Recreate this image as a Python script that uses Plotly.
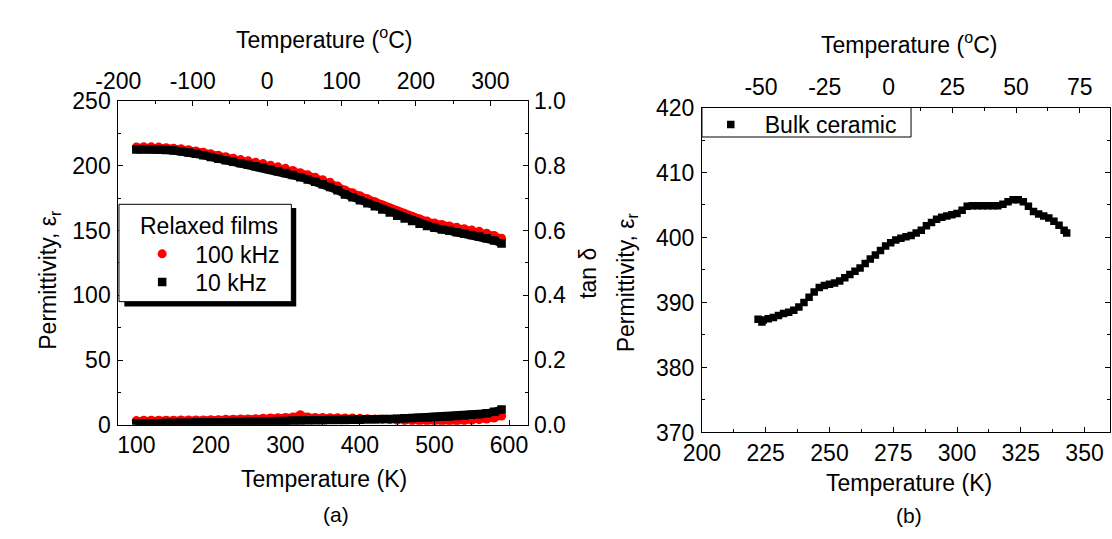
import plotly.graph_objects as go

# ---------------- data: panel (a) relaxed films ----------------
T_film = [100, 110, 120, 130, 140, 150, 160, 170, 180, 190,
          200, 210, 220, 230, 240, 250, 260, 270, 280, 290,
          300, 310, 320, 330, 340, 350, 360, 370, 380, 390,
          400, 410, 420, 430, 440, 450, 460, 470, 480, 490,
          500, 510, 520, 530, 540, 550, 560, 570, 580, 590]

eps_100kHz = [214.3, 214.5, 214.5, 214.3, 213.9, 213.5, 213.1, 212.3, 211.3, 210.3,
              209.1, 208.0, 206.9, 205.8, 204.7, 203.7, 202.7, 201.6, 200.4, 199.1,
              197.9, 196.3, 194.6, 192.9, 191.1, 189.1, 187.1, 184.3, 181.3, 179.1,
              176.8, 174.5, 172.1, 169.7, 167.3, 165.0, 162.8, 160.8, 158.9, 157.2,
              155.8, 154.6, 153.5, 152.4, 151.4, 150.4, 149.3, 147.9, 146.1, 144.0]

eps_10kHz = [212.5, 212.7, 212.7, 212.5, 212.1, 211.7, 211.1, 210.2, 209.1, 208.0,
             206.6, 205.4, 204.2, 203.0, 201.8, 200.7, 199.5, 198.3, 197.0, 195.7,
             194.4, 192.8, 191.1, 189.4, 187.6, 185.6, 183.6, 181.0, 177.8, 175.6,
             173.3, 171.0, 168.6, 166.2, 163.8, 161.4, 159.2, 157.2, 155.2, 153.4,
             152.0, 150.8, 149.7, 148.6, 147.5, 146.5, 145.4, 144.0, 142.2, 140.0]

tan_100kHz = [0.013, 0.014, 0.014, 0.014, 0.014, 0.014, 0.015, 0.015, 0.015, 0.015,
              0.016, 0.016, 0.017, 0.017, 0.018, 0.018, 0.019, 0.020, 0.021, 0.022,
              0.023, 0.024, 0.031, 0.024, 0.023, 0.023, 0.022, 0.022, 0.021, 0.021,
              0.020, 0.019, 0.018, 0.017, 0.016, 0.014, 0.013, 0.012, 0.011, 0.011,
              0.011, 0.011, 0.012, 0.012, 0.013, 0.014, 0.016, 0.018, 0.021, 0.027]

tan_10kHz = [0.005, 0.005, 0.005, 0.005, 0.006, 0.006, 0.006, 0.006, 0.007, 0.007,
             0.007, 0.008, 0.008, 0.009, 0.009, 0.010, 0.010, 0.011, 0.011, 0.012,
             0.012, 0.013, 0.013, 0.014, 0.014, 0.014, 0.015, 0.015, 0.015, 0.016,
             0.016, 0.017, 0.017, 0.018, 0.018, 0.019, 0.020, 0.021, 0.022, 0.023,
             0.024, 0.025, 0.026, 0.027, 0.029, 0.031, 0.033, 0.036, 0.040, 0.047]

# ---------------- data: panel (b) bulk ceramic ----------------
T_bulk = [222, 223.5, 224, 226, 228, 230, 232, 234, 236, 238,
          240, 242, 244, 246, 248, 250, 252, 254, 256, 258,
          260, 262, 264, 266, 268, 270, 272, 274, 276, 278,
          280, 282, 284, 286, 288, 290, 292, 294, 296, 298,
          300, 302, 304, 306, 308, 310, 312, 314, 316, 318,
          320, 322, 324, 326, 328, 330, 332, 334, 336, 338,
          340, 342, 343]

eps_bulk = [387.4, 387.0, 387.3, 387.5, 387.7, 388.0, 388.3, 388.5, 388.8, 389.3,
            390.0, 390.8, 391.6, 392.3, 392.6, 392.8, 393.0, 393.3, 393.8, 394.3,
            394.8, 395.3, 396.0, 396.7, 397.3, 398.0, 398.7, 399.2, 399.6, 399.9,
            400.1, 400.3, 400.7, 401.1, 401.8, 402.3, 402.8, 403.1, 403.3, 403.5,
            403.7, 404.2, 404.8, 404.9, 404.9, 404.9, 404.9, 404.9, 404.9, 405.1,
            405.5, 405.8, 405.8, 405.5, 404.8, 404.0, 403.6, 403.3, 403.0, 402.5,
            401.9, 401.1, 400.7]

# ---------------- tick labels ----------------
a_top_vals = [-200, -100, 0, 100, 200, 300]
a_top_text = ["-200", "-100", "0", "100", "200", "300"]
b_top_vals = [-50, -25, 0, 25, 50, 75]
b_top_text = ["-50", "-25", "0", "25", "50", "75"]

FONT = "Liberation Sans, Arial, sans-serif"
FS = 23
W, H = 1112, 539
RED = "#ff0000"


def px(x):
    return x / W


def py(y):
    return 1 - y / H


fig = go.Figure()

# panel (a) traces
fig.add_trace(go.Scatter(x=T_film, y=eps_100kHz, xaxis="x", yaxis="y", mode="lines",
                         line=dict(color=RED, width=7), showlegend=False, hoverinfo="skip"))
fig.add_trace(go.Scatter(x=T_film, y=eps_100kHz, xaxis="x", yaxis="y", mode="markers",
                         marker=dict(symbol="circle", size=9, color=RED), name="100 kHz",
                         legend="legend"))
fig.add_trace(go.Scatter(x=T_film, y=eps_10kHz, xaxis="x", yaxis="y", mode="lines",
                         line=dict(color="black", width=8), showlegend=False, hoverinfo="skip"))
fig.add_trace(go.Scatter(x=T_film, y=eps_10kHz, xaxis="x", yaxis="y", mode="markers",
                         marker=dict(symbol="square", size=8.5, color="black"), name="10 kHz",
                         legend="legend3"))
fig.add_trace(go.Scatter(x=T_film, y=tan_100kHz, xaxis="x", yaxis="y2", mode="lines+markers",
                         line=dict(color=RED, width=7),
                         marker=dict(symbol="circle", size=9, color=RED), showlegend=False))
fig.add_trace(go.Scatter(x=T_film, y=tan_10kHz, xaxis="x", yaxis="y2", mode="lines+markers",
                         line=dict(color="black", width=8),
                         marker=dict(symbol="square", size=8.5, color="black"), showlegend=False))

# panel (b) trace
fig.add_trace(go.Scatter(x=T_bulk, y=eps_bulk, xaxis="x3", yaxis="y3", mode="markers",
                         marker=dict(symbol="square", size=7.5, color="black"),
                         name="Bulk ceramic", legend="legend2"))

# empty traces so that the Celsius (top) axes are drawn
fig.add_trace(go.Scatter(x=[None], y=[None], xaxis="x2", yaxis="y", mode="markers",
                         showlegend=False, hoverinfo="skip"))
fig.add_trace(go.Scatter(x=[None], y=[None], xaxis="x4", yaxis="y3", mode="markers",
                         showlegend=False, hoverinfo="skip"))

tickfont = dict(family=FONT, size=FS, color="black")
common = dict(showline=True, linecolor="black", linewidth=1, ticks="inside", ticklen=5,
              tickwidth=1, tickcolor="black", showgrid=False, zeroline=False,
              tickfont=tickfont)


def minor(d, t0=0):
    return dict(ticks="inside", ticklen=3, tickwidth=1, tickcolor="black",
                dtick=d, tick0=t0, showgrid=False)


# geometry (pixels)
ax0, ax1, ay0, ay1 = 97.3, 516.0, 92.3, 432.7
bx0, bx1, by0, by1 = 693.3, 1110.0, 99.3, 440.7

fig.update_layout(
    width=W, height=H, autosize=False,
    margin=dict(l=0, r=0, t=0, b=0),
    paper_bgcolor="white", plot_bgcolor="white",
    font=dict(family=FONT, size=FS, color="black"),
    xaxis=dict(domain=[px(ax0), px(ax1)], anchor="y", range=[75.8, 625.9], side="bottom",
               tickmode="linear", tick0=100, dtick=100, minor=minor(50), **common),
    xaxis2=dict(overlaying="x", anchor="y", side="top", range=[-200, 351],
                tickmode="array", tickvals=a_top_vals, ticktext=a_top_text,
                ticklabelstandoff=2, minor=minor(50), **common),
    yaxis=dict(domain=[py(ay1), py(ay0)], anchor="x", range=[0, 250],
               tickmode="linear", tick0=0, dtick=50, ticklabelstandoff=2,
               minor=minor(25), **common),
    yaxis2=dict(overlaying="y", anchor="x", side="right", range=[0, 1],
                tickmode="linear", tick0=0, dtick=0.2, tickformat=".1f",
                minor=minor(0.1), **common),
    xaxis3=dict(domain=[px(bx0), px(bx1)], anchor="y3", range=[200, 360], side="bottom",
                tickmode="linear", tick0=200, dtick=25, minor=minor(12.5), **common),
    xaxis4=dict(overlaying="x3", anchor="y3", side="top", range=[-73.15, 86.85],
                tickmode="array", tickvals=b_top_vals, ticktext=b_top_text,
                ticklabelstandoff=2, minor=minor(12.5), **common),
    yaxis3=dict(domain=[py(by1), py(by0)], anchor="x3", range=[370, 420], mirror="ticks",
                tickmode="linear", tick0=370, dtick=10, ticklabelstandoff=2,
                minor=minor(5), **common),
)

leg_common = dict(xanchor="left", yanchor="top", bgcolor="rgba(0,0,0,0)", borderwidth=0,
                  font=dict(family=FONT, size=FS, color="black"), tracegroupgap=0)
fig.update_layout(
    legend=dict(x=px(108.4), y=py(230.5), itemwidth=56, **leg_common),
    legend3=dict(x=px(108.4), y=py(260.2), itemwidth=56, **leg_common),
    legend2=dict(x=px(688.0), y=py(94.5), itemwidth=58, **leg_common),
)

# legend boxes
fig.add_shape(type="rect", xref="paper", yref="paper", x0=px(103.5), x1=px(279.0),
              y0=py(308.3), y1=py(205.0), fillcolor="black", line=dict(width=0), layer="above")
fig.add_shape(type="rect", xref="paper", yref="paper", x0=px(98.0), x1=px(274.0),
              y0=py(303.3), y1=py(201.0), fillcolor="white",
              line=dict(color="black", width=1), layer="above")
fig.add_shape(type="rect", xref="paper", yref="paper", x0=px(693.3), x1=px(906.8),
              y0=py(130.3), y1=py(99.3), fillcolor="white",
              line=dict(color="black", width=1), layer="above")


# text annotations
def ann(text, x, y, size=FS, angle=0, xanchor="center"):
    fig.add_annotation(text=text, x=px(x), y=py(y), xref="paper", yref="paper",
                       showarrow=False, textangle=angle, xanchor=xanchor, yanchor="middle",
                       font=dict(family=FONT, size=size, color="black"))


ann("Temperature (<sup>o</sup>C)", 307, 26.5)
ann("Temperature (<sup>o</sup>C)", 904.7, 31.7)
ann("Temperature (K)", 307, 490)
ann("Temperature (K)", 904.7, 494)
ann("(a)", 319.5, 527, size=21)
ann("(b)", 904.7, 528, size=21)
ann("Permittivity, ε<sub>r</sub>", 26.8, 280, angle=-90)
ann("Permittivity, ε<sub>r</sub>", 616.7, 283, angle=-90)
ann("tan δ", 577, 274, angle=-90)
ann("Relaxed films", 117, 224, xanchor="left")

fig.write_html("out.html")
